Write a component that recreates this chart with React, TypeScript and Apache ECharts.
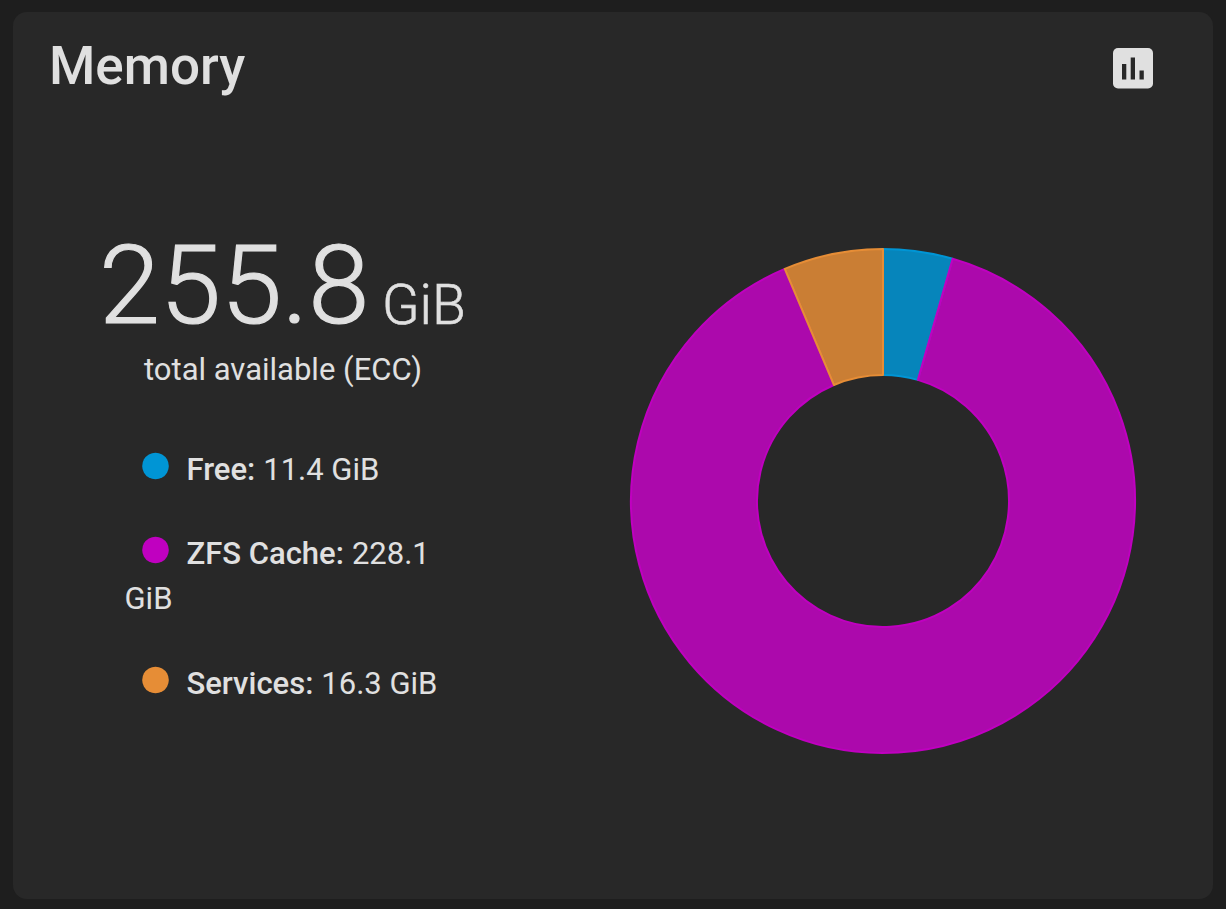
import React, { useEffect, useRef } from "react";
import * as echarts from "echarts";

const title = "Memory";
const totalValue = "255.8";
const totalUnit = "GiB";
const totalCaption = "total available (ECC)";
const categories = ["Free", "ZFS Cache", "Services"];
const values = [11.4, 228.1, 16.3];
const unit = "GiB";
const solidColors = ["#0095D5", "#C000C0", "#E68D36"];
const fillColors = ["rgba(0,149,213,0.85)", "rgba(192,5,192,0.87)", "rgba(230,141,54,0.85)"];

const FONT = "Roboto";
const TEXT = "#E0E0E0";
const CARD = "#282828";

export default function App() {
  const ref = useRef<HTMLDivElement>(null);
  useEffect(() => {
    document.body.style.margin = "0";
    const chart = echarts.init(ref.current!, undefined, { renderer: "svg", width: 1226, height: 909 });
    const dotY = [466, 550, 680];
    const textY = [469, 553, 683];
    const legend: any[] = [];
    categories.forEach((c, i) => {
      legend.push({
        type: "circle",
        shape: { cx: 155.5, cy: dotY[i], r: 13.3 },
        style: { fill: solidColors[i] },
      });
      const label = i === 1 ? `${values[i]}` : `${values[i]} ${unit}`;
      legend.push({
        type: "text",
        x: 186.5,
        y: textY[i],
        style: {
          text: `{b|${c}:}{v|${label}}`,
          verticalAlign: "middle",
          rich: {
            b: { fontFamily: FONT, fontWeight: 500, fontSize: 31, fill: TEXT, color: TEXT },
            v: { fontFamily: FONT, fontWeight: 400, fontSize: 31, fill: TEXT, color: TEXT, padding: [0, 0, 0, 8] },
          },
        },
      });
    });
    chart.setOption({
      animation: false,
      backgroundColor: "#1E1E1E",
      graphic: [
        {
          type: "rect",
          shape: { x: 13, y: 12, width: 1200, height: 887, r: 14 },
          style: { fill: CARD },
          z: -10,
        },
        {
          type: "text",
          x: 49,
          y: 66,
          style: { text: title, fontFamily: FONT, fontWeight: 500, fontSize: 53, fill: TEXT, verticalAlign: "middle" },
        },
        { type: "rect", shape: { x: 1113, y: 48, width: 40, height: 40.5, r: 5 }, style: { fill: TEXT } },
        { type: "rect", shape: { x: 1122, y: 64, width: 4.3, height: 15.5 }, style: { fill: CARD } },
        { type: "rect", shape: { x: 1130.7, y: 57.5, width: 4.3, height: 22 }, style: { fill: CARD } },
        { type: "rect", shape: { x: 1139.5, y: 70.5, width: 4.3, height: 9 }, style: { fill: CARD } },
        {
          type: "text",
          x: 99,
          y: 285,
          style: { text: totalValue, fontFamily: FONT, fontWeight: 300, fontSize: 110, fill: TEXT, stroke: TEXT, lineWidth: 1.2, verticalAlign: "middle" },
        },
        {
          type: "text",
          x: 382,
          y: 305,
          style: { text: totalUnit, fontFamily: FONT, fontWeight: 300, fontSize: 55, fill: TEXT, stroke: TEXT, lineWidth: 0.6, verticalAlign: "middle" },
        },
        {
          type: "text",
          x: 283,
          y: 369,
          style: { text: totalCaption, fontFamily: FONT, fontWeight: 400, fontSize: 31, fill: TEXT, align: "center", verticalAlign: "middle" },
        },
        ...legend,
        {
          type: "text",
          x: 124.5,
          y: 598,
          style: { text: unit, fontFamily: FONT, fontWeight: 400, fontSize: 31, fill: TEXT, verticalAlign: "middle" },
        },
      ],
      series: [
        {
          type: "pie",
          center: [883, 501],
          radius: [126, 252],
          startAngle: 90,
          clockwise: true,
          silent: true,
          label: { show: false },
          labelLine: { show: false },
          data: categories.map((c, i) => ({
            name: c,
            value: values[i],
            itemStyle: { color: fillColors[i], borderColor: solidColors[i], borderWidth: 2 },
          })),
        },
      ],
    });
    return () => chart.dispose();
  }, []);
  return <div ref={ref} style={{ width: 1226, height: 909 }} />;
}
